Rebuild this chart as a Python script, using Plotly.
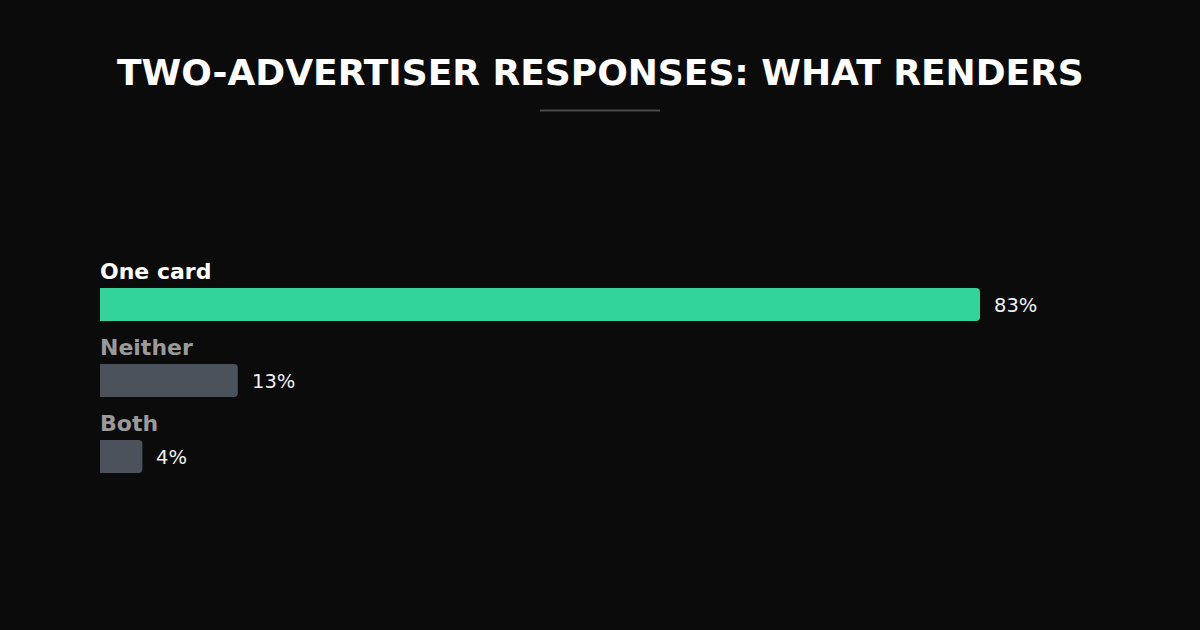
import plotly.graph_objects as go

# ---- data ----
categories = ["One card", "Neither", "Both"]
values = [83, 13, 4]
value_labels = ["83%", "13%", "4%"]
title_text = "TWO-ADVERTISER RESPONSES: WHAT RENDERS"

# ---- style ----
BG = "#0b0b0b"
HIGHLIGHT = "#34d399"
MUTED = "#4b525c"
bar_colors = [HIGHLIGHT if i == 0 else MUTED for i in range(len(categories))]
label_colors = ["#ffffff" if i == 0 else "#9a9a9a" for i in range(len(categories))]
FONT = "DejaVu Sans"

W, H = 1200, 630
px_per_unit = 76.0
first_center_px = 304.5
y_top = -first_center_px / px_per_unit
y_bottom = y_top + H / px_per_unit

plot_left, plot_right = 100, 1100
x_max = values[0] * (plot_right - plot_left) / 880.0

ypos = list(range(len(categories)))

fig = go.Figure()
fig.add_trace(go.Bar(
    x=values, y=ypos, orientation="h",
    marker=dict(color=bar_colors, line=dict(width=0)),
    width=0.434,
    hoverinfo="skip",
))

annotations = []
for i, (cat, v, lab) in enumerate(zip(categories, values, value_labels)):
    annotations.append(dict(
        x=0, y=ypos[i], xref="x", yref="y", text=f"<b>{cat}</b>",
        showarrow=False, xanchor="left", yanchor="middle", yshift=33, xshift=-2,
        font=dict(family=FONT, size=22, color=label_colors[i]),
    ))
    annotations.append(dict(
        x=v, y=ypos[i], xref="x", yref="y", text=lab,
        showarrow=False, xanchor="left", yanchor="middle", xshift=12, yshift=-1,
        font=dict(family=FONT, size=19.5, color="#f0f0f0"),
    ))

annotations.append(dict(
    x=0.5, y=1 - 72 / H, xref="paper", yref="paper", text=f"<b>{title_text}</b>",
    showarrow=False, xanchor="center", yanchor="middle",
    font=dict(family=FONT, size=36, color="#ffffff"),
))

fig.update_layout(
    width=W, height=H,
    paper_bgcolor=BG, plot_bgcolor=BG,
    margin=dict(l=plot_left, r=W - plot_right, t=0, b=0),
    showlegend=False,
    barcornerradius=4,
    xaxis=dict(range=[0, x_max], visible=False, fixedrange=True),
    yaxis=dict(range=[y_bottom, y_top], visible=False, fixedrange=True),
    annotations=annotations,
    shapes=[dict(type="line", xref="paper", yref="paper",
                 x0=(540 - plot_left) / (plot_right - plot_left),
                 x1=(660 - plot_left) / (plot_right - plot_left),
                 y0=1 - 110.5 / H, y1=1 - 110.5 / H,
                 line=dict(color="#4a4a4a", width=2))],
    font=dict(family=FONT),
)

fig.write_html(
    "out.html",
    config={"displayModeBar": False},
    post_script="document.body.style.margin='0';document.body.style.background='#0b0b0b';",
)
